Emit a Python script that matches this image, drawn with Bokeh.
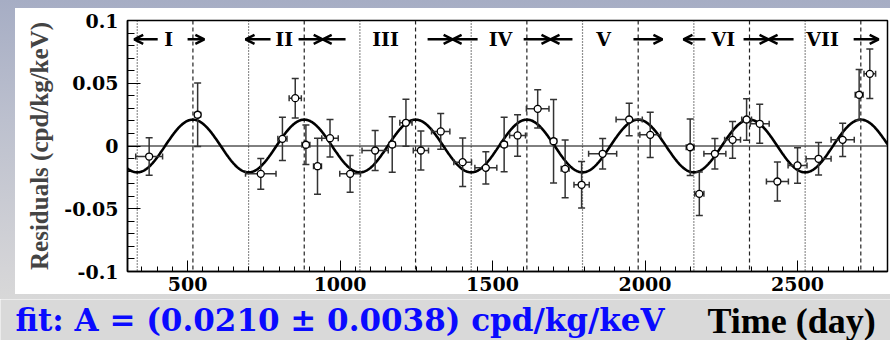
import numpy as np
from bokeh.plotting import figure
from bokeh.layouts import column
from bokeh.models import (ColumnDataSource, Whisker, TeeHead, Span, Arrow, OpenHead,
                          FixedTicker, Range1d)
from bokeh.embed import file_html
from bokeh.resources import INLINE
from bokeh.core.properties import value

# ---- data ----
days = [374, 533, 740, 811, 853, 888, 926, 967, 1033, 1115,
        1171, 1216, 1265, 1330, 1402, 1478, 1538, 1582, 1648, 1700,
        1738, 1792, 1861, 1948, 2017, 2148, 2178, 2229, 2287, 2333,
        2376, 2434, 2500, 2569, 2648, 2702, 2737]
residuals = [-0.0084, 0.0249, -0.0222, 0.0057, 0.0381, 0.0010, -0.0161, 0.0062, -0.0222, -0.0036,
             0.0012, 0.0185, -0.0036, 0.0116, -0.0129, -0.0174, 0.0012, 0.0084, 0.0296, 0.0038,
             -0.0182, -0.0309, -0.0062, 0.0211, 0.0089, -0.0010, -0.0381, -0.0062, 0.0049, 0.0211,
             0.0177, -0.0283, -0.0155, -0.0102, 0.0049, 0.0408, 0.0575]
err_res = [0.0149, 0.0253, 0.0123, 0.0173, 0.0157, 0.0157, 0.0223, 0.0149, 0.0146, 0.0160,
           0.0222, 0.0187, 0.0155, 0.0142, 0.0193, 0.0129, 0.0217, 0.0165, 0.0153, 0.0332,
           0.0230, 0.0186, 0.0122, 0.0129, 0.0180, 0.0226, 0.0173, 0.0122, 0.0146, 0.0166,
           0.0155, 0.0155, 0.0142, 0.0130, 0.0133, 0.0202, 0.0197]
err_days = [44, 10, 50, 15, 20, 13, 13, 27, 34, 43,
            10, 20, 25, 30, 29, 36, 10, 26, 37, 10,
            13, 25, 46, 43, 34, 13, 15, 36, 26, 16,
            31, 36, 31, 41, 38, 13, 19]

# fit: A cos(2*pi/T (t - t0))
fit_amplitude = 0.0210
fit_period = 365.0
fit_phase = 152.5

peak_days = [517.5, 882.5, 1247.5, 1612.5, 1977.5, 2342.5, 2707.5]
trough_days = [335, 700, 1065, 1430, 1795, 2160, 2525]

cycle_names = ["I", "II", "III", "IV", "V", "VI", "VII"]
cycle_label_days = [438, 817, 1149, 1526, 1864, 2257, 2582]
arrow_tail_days = [402, 500, 772, 864, 1018, 1287, 1451, 1602, 1762, 1962, 2198, 2323, 2487, 2684]
arrow_head_days = [325, 555, 690, 943, 943, 1369, 1369, 1690, 1690, 2057, 2126, 2405, 2405, 2766]
annotation_level = 0.085

y_tick_values = [-0.1, -0.05, 0, 0.05, 0.1]
y_tick_labels = ["-0.1", "-0.05", "0", "0.05", "0.1"]
y_minor_values = [round(-0.1 + 0.01 * i, 3) for i in range(21)]
x_tick_values = [500, 1000, 1500, 2000, 2500]
x_tick_labels = ["500", "1000", "1500", "2000", "2500"]
x_minor_values = list(range(350, 2800, 50))

fit_text = "fit:  A = (0.0210 \u00b1 0.0038) cpd/kg/keV"
x_title = "Time (day)"
y_title = "Residuals (cpd/kg/keV)"

MAIN_H = 299

# ---- main figure ----
p = figure(frame_width=760, frame_height=251,
           x_range=Range1d(303, 2795), y_range=Range1d(-0.1, 0.1),
           output_backend="svg", toolbar_location=None, title=None,
           min_border_left=127, min_border_right=3, min_border_top=20,
           min_border_bottom=MAIN_H - 20 - 251)
p.border_fill_alpha = 0
p.styles = {"background": "linear-gradient(#ffffff, #ffffff) 15px 8px / 875px 286px no-repeat, "
                          "linear-gradient(180deg, #a6adc4 0%, #bcc0ce 40%, #d4d4d7 90%, #d8d8d8 100%)"}
p.background_fill_color = "white"
p.outline_line_color = "black"
p.outline_line_width = 1.5
p.xgrid.visible = False
p.ygrid.visible = False

tick_font = "DejaVu Serif"
for ax in (p.xaxis[0], p.yaxis[0]):
    ax.major_label_text_font = tick_font
    ax.major_label_text_font_style = "bold"
    ax.major_label_text_font_size = "19px"
    ax.major_label_text_color = "black"
    ax.axis_line_color = "black"
    ax.axis_line_width = 1.5
    ax.major_tick_line_color = "black"
    ax.minor_tick_line_color = "black"
    ax.major_tick_out = 0
    ax.minor_tick_out = 0

p.yaxis.ticker = FixedTicker(ticks=y_tick_values, minor_ticks=y_minor_values)
p.yaxis.major_label_overrides = dict(zip(y_tick_values, y_tick_labels))
p.yaxis.major_tick_in = 13
p.yaxis.minor_tick_in = 7
p.yaxis.major_label_standoff = 9
p.yaxis.axis_label = y_title
p.yaxis.axis_label_text_font = "Liberation Serif"
p.yaxis.axis_label_text_font_style = "bold"
p.yaxis.axis_label_text_font_size = "25px"
p.yaxis.axis_label_standoff = 8

p.xaxis.ticker = FixedTicker(ticks=x_tick_values, minor_ticks=x_minor_values)
p.xaxis.major_label_overrides = dict(zip(x_tick_values, x_tick_labels))
p.xaxis.major_tick_in = 11
p.xaxis.minor_tick_in = 5
p.xaxis.major_label_standoff = 5
p.xaxis.axis_label = None

# vertical reference lines
for d in peak_days:
    p.add_layout(Span(location=d, dimension="height", line_color="#222222",
                      line_width=1.2, line_dash="4 3", level="underlay"))
for d in trough_days:
    p.add_layout(Span(location=d, dimension="height", line_color="#222222",
                      line_width=1.2, line_dash="1 2", level="underlay"))
p.add_layout(Span(location=0, dimension="width", line_color="black",
                  line_width=1, level="underlay"))

# fit curve
t = np.linspace(303, 2795, 1500)
p.line(t, fit_amplitude * np.cos(2 * np.pi / fit_period * (t - fit_phase)),
       line_color="black", line_width=2.6)

# data with error bars
src = ColumnDataSource(dict(
    day=days, res=residuals,
    res_lo=[r - e for r, e in zip(residuals, err_res)],
    res_hi=[r + e for r, e in zip(residuals, err_res)],
    day_lo=[d - e for d, e in zip(days, err_days)],
    day_hi=[d + e for d, e in zip(days, err_days)],
))
p.add_layout(Whisker(source=src, base="day", lower="res_lo", upper="res_hi", dimension="height",
                     line_color="#333333", line_width=1.5, level="glyph",
                     upper_head=TeeHead(size=7, line_color="#333333", line_width=1.5),
                     lower_head=TeeHead(size=7, line_color="#333333", line_width=1.5)))
p.add_layout(Whisker(source=src, base="res", lower="day_lo", upper="day_hi", dimension="width",
                     line_color="#333333", line_width=1.5, level="glyph",
                     upper_head=TeeHead(size=6, line_color="#333333", line_width=1.5),
                     lower_head=TeeHead(size=6, line_color="#333333", line_width=1.5)))
sc = p.scatter("day", "res", source=src, marker="circle", size=7,
               fill_color="white", line_color="black", line_width=1.3)
sc.level = "overlay"

# cycle annotations
p.text(x=cycle_label_days, y=[annotation_level] * len(cycle_label_days), text=cycle_names,
       text_font=value("DejaVu Serif"), text_font_style="bold", text_font_size="19px",
       text_align="center", text_baseline="middle", text_color="black")
arr_src = ColumnDataSource(dict(x0=arrow_tail_days, x1=arrow_head_days,
                                y=[annotation_level] * len(arrow_tail_days)))
p.add_layout(Arrow(source=arr_src, x_start="x0", y_start="y", x_end="x1", y_end="y",
                   line_color="black", line_width=2.5,
                   end=OpenHead(size=9, line_color="black", line_width=2.5)))

# ---- bottom strip with the fit result and the time axis title ----
strip_h = 340 - MAIN_H
p2 = figure(width=890, height=strip_h, x_range=Range1d(0, 890), y_range=Range1d(0, strip_h),
            output_backend="svg", toolbar_location=None, title=None,
            x_axis_location=None, y_axis_location=None, min_border=0)
p2.xgrid.visible = False
p2.ygrid.visible = False
p2.outline_line_color = None
p2.background_fill_color = "#d9d9d9"
p2.border_fill_color = "#d9d9d9"
# strip coordinates: pixels, measured up from the bottom edge (text centres)
p2.text(x=[15], y=[21], text=[fit_text], text_font=value("DejaVu Serif"),
        text_font_style="bold", text_font_size="31px", text_color="#0a0aff",
        text_baseline="middle", text_align="left")
p2.text(x=[707], y=[20], text=[x_title], text_font=value("Liberation Serif"),
        text_font_style="bold", text_font_size="36px", text_color="black",
        text_baseline="middle", text_align="left")

for fig in (p, p2):
    if "frame_align" in fig.properties():
        fig.frame_align = False

layout = column(p, p2, spacing=0)
open("out.html", "w").write(file_html(layout, INLINE))
